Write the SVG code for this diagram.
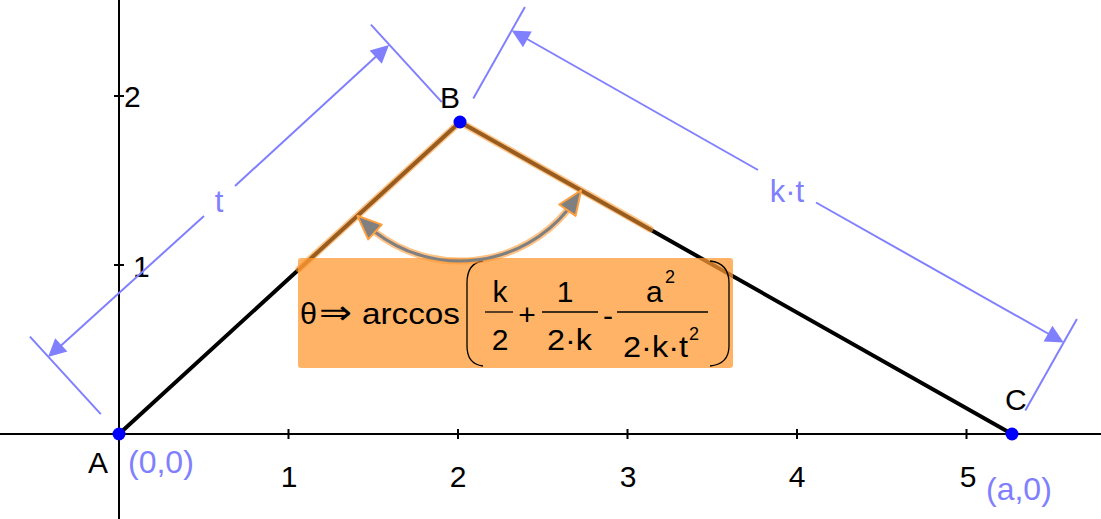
<svg xmlns="http://www.w3.org/2000/svg" width="1101" height="519" viewBox="0 0 1101 519">
<style>
  .axis{stroke:#000;stroke-width:2;fill:none}
  .seg{stroke:#000;stroke-width:4;fill:none;stroke-linecap:round}
  .dim{stroke:#8080ff;stroke-width:2;fill:none}
  .dimhead{fill:#8080ff;stroke:none}
  .lbl{font-family:"Liberation Sans",Arial,sans-serif;font-size:30px;fill:#000}
  .coord{font-family:"Liberation Sans",Arial,sans-serif;font-size:32px;fill:#8080ff}
  .dimlbl{font-family:"Liberation Sans",Arial,sans-serif;font-size:31px;fill:#8080ff;text-anchor:middle}
  .f{font-family:"Liberation Sans",Arial,sans-serif;font-size:30px;fill:#000}
  .fm{font-family:"Liberation Sans",Arial,sans-serif;font-size:30px;fill:#000;text-anchor:middle}
  .sup{font-family:"Liberation Sans",Arial,sans-serif;font-size:18px;fill:#000}
  .pt{fill:#0000ff}
  .hl{stroke:#ff9933;stroke-width:7;stroke-opacity:0.6;fill:none;stroke-linecap:round}
</style>
<rect width="1101" height="519" fill="#fff"/>
<g id="axes">
  <line class="axis" x1="0" y1="434" x2="1101" y2="434"/>
  <line class="axis" x1="119" y1="0" x2="119" y2="519"/>
  <path class="axis" d="M288.5 429v10M458 429v10M627.5 429v10M797 429v10M966.5 429v10M114 96h10M114 265h10" stroke-width="1.5"/>
  <text class="lbl" text-anchor="middle" x="289" y="487">1</text>
  <text class="lbl" text-anchor="middle" x="458" y="487">2</text>
  <text class="lbl" text-anchor="middle" x="628" y="487">3</text>
  <text class="lbl" text-anchor="middle" x="797" y="487">4</text>
  <text class="lbl" text-anchor="middle" x="968" y="487">5</text>
  <text class="lbl" x="124" y="107">2</text>
  <text class="lbl" x="133" y="277">1</text>
</g>
<g id="connectors">
  <line class="seg" x1="119" y1="434" x2="460" y2="122"/>
  <line class="seg" x1="460" y1="122" x2="1012" y2="434"/>
</g>
<g id="dim-t">
  <line class="dim" x1="100.8" y1="414.1" x2="29.9" y2="336.6"/>
  <line class="dim" x1="441.8" y1="102.1" x2="370.9" y2="24.6"/>
  <line class="dim" x1="55" y1="351" x2="204" y2="216"/>
  <line class="dim" x1="235" y1="186" x2="382" y2="51"/>
  <polygon class="dimhead" points="48,357 67.4,351.5 55.2,338.3"/>
  <polygon class="dimhead" points="389,45 381.8,63.8 369.6,50.6"/>
  <text class="dimlbl" x="219" y="212">t</text>
</g>
<g id="dim-kt">
  <line class="dim" x1="473.3" y1="98.5" x2="524.9" y2="7"/>
  <line class="dim" x1="1025.3" y1="410.5" x2="1076.9" y2="319"/>
  <line class="dim" x1="520" y1="35" x2="758" y2="170"/>
  <line class="dim" x1="816" y1="202.5" x2="1055" y2="337.5"/>
  <polygon class="dimhead" points="511.7,30.5 531.8,31.6 523,47.2"/>
  <polygon class="dimhead" points="1063.7,342.5 1052.4,325.8 1043.6,341.4"/>
  <text class="dimlbl" x="787" y="202">k·t</text>
</g>
<g id="formula">
  <rect x="298" y="258" width="435" height="110" rx="3" fill="#ff9933" fill-opacity="0.75"/>
  <text class="f" x="300" y="324" font-size="34" textLength="17" lengthAdjust="spacingAndGlyphs">θ</text>
  <text x="319" y="324" font-family="DejaVu Sans,sans-serif" font-size="34" textLength="33" lengthAdjust="spacingAndGlyphs">⇒</text>
  <text class="f" x="362" y="324" font-size="36" textLength="98" lengthAdjust="spacingAndGlyphs">arccos</text>
  <path d="M483 261Q467 263 467 283V346Q467 364 483 366M710 261Q729 263 729 283V346Q729 364 710 366" fill="none" stroke="#000" stroke-width="1.3"/>
  <text class="fm" x="500" y="302">k</text>
  <line x1="485" y1="312" x2="513" y2="312" stroke="#000" stroke-width="1.3"/>
  <text class="fm" x="500" y="350">2</text>
  <text class="fm" x="527" y="325">+</text>
  <text class="fm" x="565" y="302">1</text>
  <line x1="542" y1="312" x2="598" y2="312" stroke="#000" stroke-width="1.3"/>
  <text class="f" x="547" y="350" textLength="45" lengthAdjust="spacingAndGlyphs">2·k</text>
  <text class="fm" x="608" y="326">-</text>
  <text class="f" x="646" y="302">a</text>
  <text class="sup" x="665" y="283">2</text>
  <line x1="617" y1="312" x2="708" y2="312" stroke="#000" stroke-width="1.3"/>
  <text class="f" x="623" y="357" textLength="65" lengthAdjust="spacingAndGlyphs">2·k·t</text>
  <text class="sup" x="689" y="340">2</text>
</g>
<g id="angle">
  <line class="hl" x1="299" y1="269" x2="460" y2="122"/>
  <line class="hl" x1="460" y1="122" x2="650" y2="229"/>
  <path d="M375 232A139 139 0 0 0 567.4 210.2" fill="none" stroke="#ff9933" stroke-opacity="0.6" stroke-width="7"/>
  <path d="M375 232A139 139 0 0 0 567.4 210.2" fill="none" stroke="#808080" stroke-width="3"/>
  <polygon points="357.4,215.8 381.8,224.6 368.2,239.4" fill="#808080" stroke="#ffa040" stroke-width="2" stroke-linejoin="round"/>
  <polygon points="581.1,190.4 575.6,215.9 559.2,204.5" fill="#808080" stroke="#ffa040" stroke-width="2" stroke-linejoin="round"/>
</g>
<g id="node-A">
  <circle class="pt" cx="119" cy="434" r="6.5"/>
  <text class="lbl" x="88" y="473">A</text>
  <text class="coord" x="128" y="473">(0,0)</text>
</g>
<g id="node-B">
  <circle class="pt" cx="460" cy="122" r="6.5"/>
  <text class="lbl" x="440" y="108">B</text>
</g>
<g id="node-C">
  <circle class="pt" cx="1012" cy="434" r="6.5"/>
  <text class="lbl" x="1005" y="410">C</text>
  <text class="coord" x="986" y="500">(a,0)</text>
</g>
</svg>
